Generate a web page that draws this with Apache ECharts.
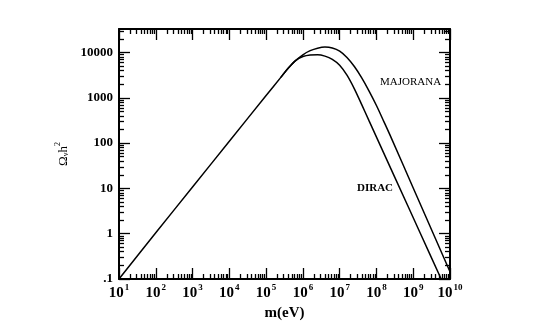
<!DOCTYPE html>
<html>
<head>
<meta charset="utf-8">
<script src="https://cdn.jsdelivr.net/npm/echarts@6/dist/echarts.min.js"></script>
<style>html,body{margin:0;padding:0;background:#fff}#c{width:554px;height:329px}</style>
</head>
<body>
<div id="c"></div>
<script>
// Data
var diracMass  = [10, 100, 1e3, 1e4, 1e5, 2.51e5, 3.98e5, 6.31e5, 1e6, 1.58e6, 2.51e6, 3.98e6, 6.31e6, 1e7, 1.58e7, 2.51e7, 3.98e7, 6.31e7, 3.16e8, 1.58e9, 5.75e9];
var diracOmega = [0.1, 1.05, 10.7, 110, 1120, 2820, 4470, 6610, 8130, 8810, 8910, 8320, 7080, 5250, 3160, 1580, 708, 309, 17.5, 1.0, 0.1];
var majoranaMass  = [2.51e5, 3.98e5, 6.31e5, 1e6, 1.58e6, 2.51e6, 3.98e6, 6.31e6, 1e7, 1.58e7, 2.51e7, 3.98e7, 6.31e7, 1e8, 1.58e8, 2.51e8, 1e9, 1e10];
var majoranaOmega = [2820, 4470, 6610, 8910, 10960, 12450, 13180, 12590, 10720, 7760, 4900, 2750, 1410, 676, 302, 132, 10.2, 0.145];
var xMajor = [10, 1e2, 1e3, 1e4, 1e5, 1e6, 1e7, 1e8, 1e9, 1e10];
var xTickExp = ['1','2','3','4','5','6','7','8','9','10'];
var yMajor = [0.1, 1, 10, 100, 1000, 10000];
var yTickLabels = ['.1', '1', '10', '100', '1000', '10000'];
var seriesNames = ['DIRAC', 'MAJORANA'];

function minors(lo, hi) {
  var out = [];
  for (var d = lo; d < hi; d *= 10) {
    for (var k = 2; k <= 9; k++) out.push(d * k);
  }
  return out;
}
var xMinor = minors(10, 1e10);
var yMinor = minors(0.1, 1e4).concat([20000, 30000]);

function pair(a, b) { return a.map(function (v, i) { return [v, b[i]]; }); }

var serif = 'Liberation Serif';
var X_MIN = 10, X_MAX = 1e10, Y_MIN = 0.1, Y_MAX = 33000;

function xAx(pos, vals, len, showLine, labels) {
  return {
    type: 'log', logBase: 10, position: pos, min: X_MIN, max: X_MAX,
    axisLine: { show: showLine, onZero: false, lineStyle: { color: '#000', width: 2 } },
    axisTick: { show: true, inside: true, length: len, customValues: vals, lineStyle: { color: '#000', width: 1.3 } },
    splitLine: { show: false }, minorTick: { show: false },
    axisLabel: labels ? {
      show: true, customValues: xMajor, margin: 4,
      fontFamily: serif, fontWeight: 'bold', color: '#000',
      formatter: function (v) {
        var i = xMajor.findIndex(function (m) { return Math.abs(Math.log10(m) - Math.log10(v)) < 1e-6; });
        return i < 0 ? '' : '{b|10}{s|' + xTickExp[i] + '}';
      },
      rich: {
        b: { fontFamily: serif, fontWeight: 'bold', fontSize: 15, lineHeight: 18, verticalAlign: 'bottom', color: '#000' },
        s: { fontFamily: serif, fontSize: 9, lineHeight: 18, verticalAlign: 'top', color: '#000', padding: [0, 0, 6, 1] }
      }
    } : { show: false },
    name: labels ? 'm(eV)' : '', nameLocation: 'middle', nameGap: 27,
    nameTextStyle: { fontFamily: serif, fontWeight: 'bold', fontSize: 15, color: '#000' }
  };
}
function yAx(pos, vals, len, showLine, labels) {
  return {
    type: 'log', logBase: 10, position: pos, min: Y_MIN, max: Y_MAX,
    axisLine: { show: showLine, onZero: false, lineStyle: { color: '#000', width: 2 } },
    axisTick: { show: true, inside: true, length: len, customValues: vals, lineStyle: { color: '#000', width: 1.3 } },
    splitLine: { show: false }, minorTick: { show: false },
    axisLabel: labels ? {
      show: true, customValues: yMajor, margin: 6,
      fontFamily: serif, fontWeight: 'bold', fontSize: 13, color: '#000',
      formatter: function (v) {
        var i = yMajor.findIndex(function (m) { return Math.abs(Math.log10(m) - Math.log10(v)) < 1e-6; });
        return i < 0 ? '' : yTickLabels[i];
      }
    } : { show: false },
    name: labels ? '{o|Ω}{sub|ν}{o|h}{sup|2}' : '', nameLocation: 'middle', nameGap: 44, nameRotate: 90,
    nameTextStyle: {
      color: '#000',
      rich: {
        o: { fontFamily: serif, fontSize: 13, lineHeight: 16, verticalAlign: 'bottom', color: '#000' },
        sub: { fontFamily: serif, fontSize: 8, lineHeight: 16, verticalAlign: 'bottom', color: '#000' },
        sup: { fontFamily: serif, fontSize: 8, lineHeight: 16, verticalAlign: 'top', color: '#000' }
      }
    }
  };
}

var chart = echarts.init(document.getElementById('c'), null, { renderer: 'canvas' });
chart.setOption({
  animation: false,
  backgroundColor: '#fff',
  grid: { left: 119, right: 104, top: 29, bottom: 50, containLabel: false },
  xAxis: [
    xAx('bottom', xMajor, 11, true, true),
    xAx('bottom', xMinor, 5, false, false),
    xAx('top', xMajor, 11, true, false),
    xAx('top', xMinor, 5, false, false)
  ],
  yAxis: [
    yAx('left', yMajor, 11, true, true),
    yAx('left', yMinor, 5, false, false),
    yAx('right', yMajor, 11, true, false),
    yAx('right', yMinor, 5, false, false)
  ],
  series: [
    { name: seriesNames[0], type: 'line', xAxisIndex: 0, yAxisIndex: 0, data: pair(diracMass, diracOmega),
      smooth: 0.3, showSymbol: false, lineStyle: { color: '#000', width: 1.5 } },
    { name: seriesNames[1], type: 'line', xAxisIndex: 0, yAxisIndex: 0, data: pair(majoranaMass, majoranaOmega),
      smooth: 0.3, showSymbol: false, lineStyle: { color: '#000', width: 1.5 } }
  ],
  graphic: [
    { type: 'text', left: 380, top: 77, style: { text: 'MAJORANA', fontFamily: serif, fontSize: 11, fill: '#000' } },
    { type: 'text', left: 357, top: 183, style: { text: 'DIRAC', fontFamily: serif, fontWeight: 'bold', fontSize: 11, fill: '#000' } }
  ]
});
</script>
</body>
</html>
